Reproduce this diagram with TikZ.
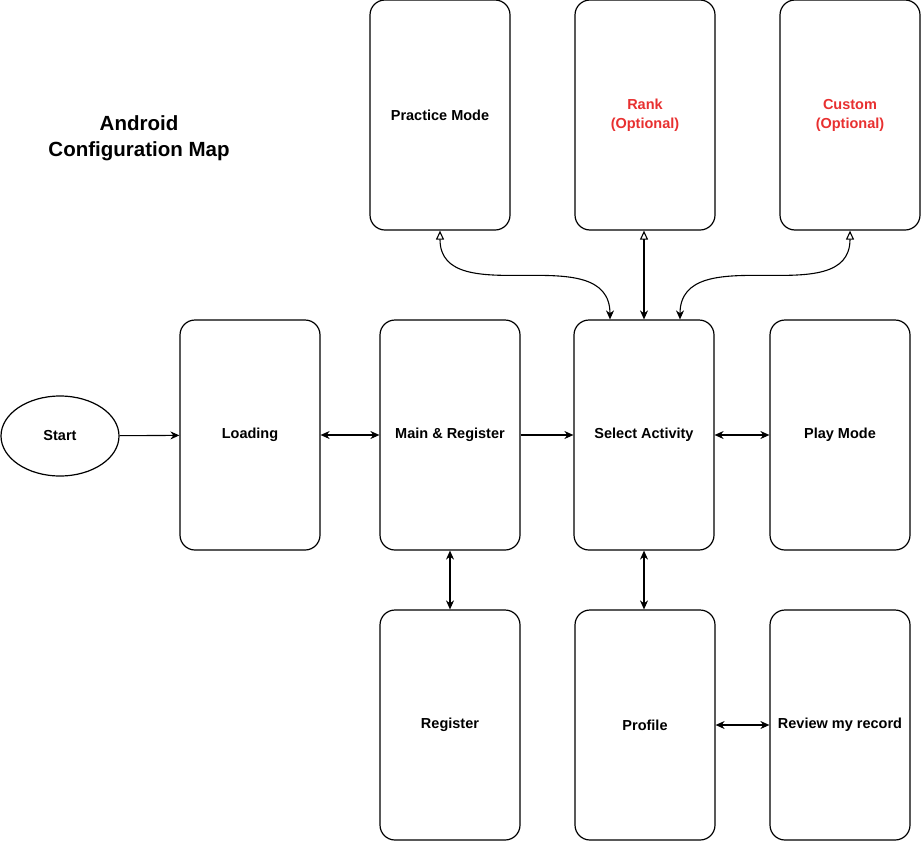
\documentclass[tikz,border=0pt]{standalone}
\usepackage{fontspec}
\setmainfont{Liberation Sans}
\usetikzlibrary{arrows.meta,shapes.geometric}
\definecolor{optred}{RGB}{232,48,48}

\begin{document}
\begin{tikzpicture}[x=1pt,y=-1pt,
        screen/.style={draw,line width=1.2pt,rounded corners=15pt,minimum width=140pt,minimum height=230pt,align=center,font=\fontsize{14.5}{19}\selectfont\bfseries},
        link/.style={line width=1.1pt,-{Stealth[length=9pt,width=8pt]}},
        twoway/.style={line width=1.1pt,{Stealth[length=9pt,width=8pt]}-{Stealth[length=9pt,width=8pt]}},
        upway/.style={line width=1.1pt,{Triangle[open,length=9pt,width=8pt]}-{Stealth[length=9pt,width=8pt]}}]
        \useasboundingbox (0,0) rectangle (921,841);
        \node[align=center,font=\fontsize{20.5}{26}\selectfont\bfseries](title) at (139,138) {Android\\Configuration Map};
        \node[draw,ellipse,line width=1.2pt,minimum width=118pt,minimum height=80pt,font=\fontsize{14.5}{19}\selectfont\bfseries](start) at (60,436) {Start};
        \node[screen](practice) at (440,115) {Practice Mode};
        \node[screen,text=optred](rank) at (645,115) {Rank\\(Optional)};
        \node[screen,text=optred](custom) at (850,115) {Custom\\(Optional)};
        \node[screen](loading) at (250,435) {Loading};
        \node[screen](mainreg) at (450,435) {Main \& Register};
        \node[screen](select) at (644,435) {Select Activity};
        \node[screen](play) at (840,435) {Play Mode};
        \node[screen](register) at (450,725) {Register};
        \node[screen](profile) at (645,725) {Profile};
        \node[screen](review) at (840,725) {Review my record};
        \draw[link](start)--(loading);
        \draw[twoway](loading)--(mainreg);
        \draw[link](mainreg)--(select);
        \draw[twoway](select)--(play);
        \draw[twoway](mainreg)--(register);
        \draw[twoway](select.south)--(profile.north -| select.south);
        \draw[twoway](profile)--(review);
        \draw[upway](practice.south) to[out=-90,in=90,looseness=1.1] ([xshift=-34pt]select.north);
        \draw[upway](rank.south -| select.north)--(select.north);
        \draw[upway](custom.south) to[out=-90,in=90,looseness=1.1] ([xshift=36pt]select.north);
\end{tikzpicture}
\end{document}
